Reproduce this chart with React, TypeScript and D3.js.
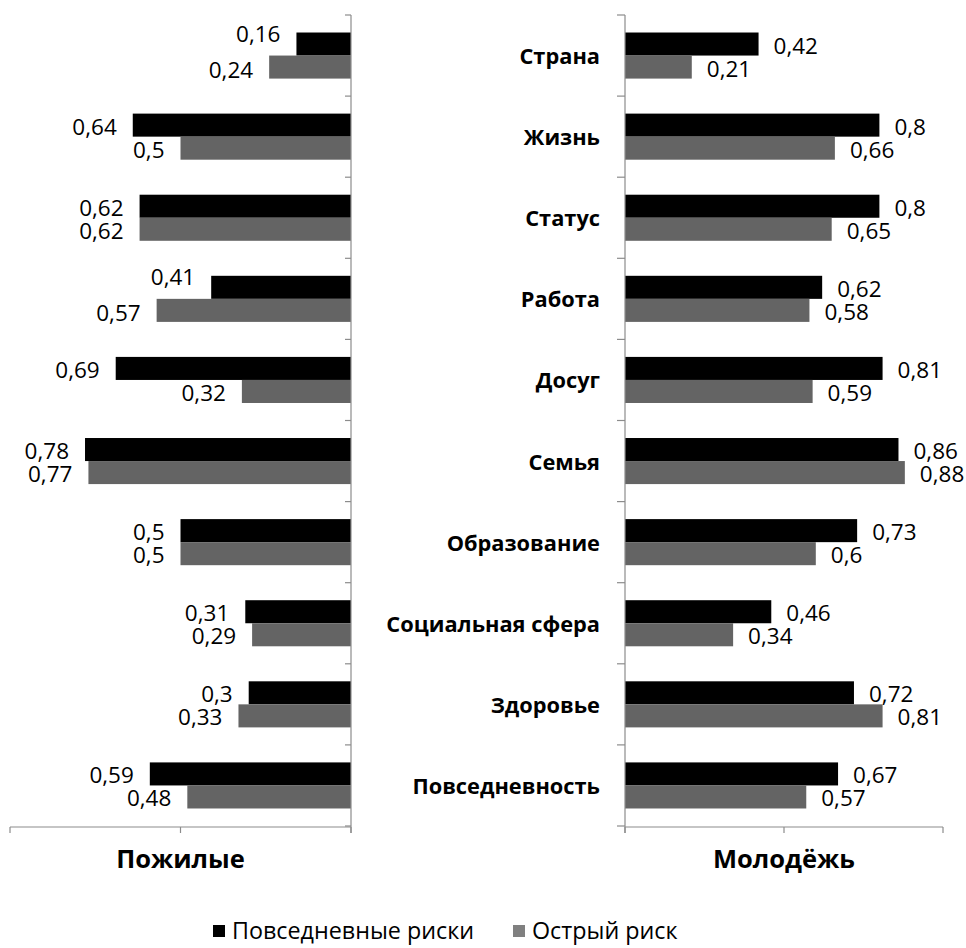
import React from "react";
import * as d3 from "d3";

const categories = [
  "Страна",
  "Жизнь",
  "Статус",
  "Работа",
  "Досуг",
  "Семья",
  "Образование",
  "Социальная сфера",
  "Здоровье",
  "Повседневность",
];
const seriesNames = ["Повседневные риски", "Острый риск"];
const elderlyDaily = [0.16, 0.64, 0.62, 0.41, 0.69, 0.78, 0.5, 0.31, 0.3, 0.59];
const elderlyAcute = [0.24, 0.5, 0.62, 0.57, 0.32, 0.77, 0.5, 0.29, 0.33, 0.48];
const youthDaily = [0.42, 0.8, 0.8, 0.62, 0.81, 0.86, 0.73, 0.46, 0.72, 0.67];
const youthAcute = [0.21, 0.66, 0.65, 0.58, 0.59, 0.88, 0.6, 0.34, 0.81, 0.57];
const xTicks = [0, 0.5, 1];
const panelTitles = ["Пожилые", "Молодёжь"];

const W = 966;
const H = 948;
const TOP = 15;
const BOTTOM = 826;
const FONT = "'Open Sans', 'Noto Sans', sans-serif";
const AXIS = "#8c8c8c";
const COLORS = ["#000000", "#646464"];
const LEGEND_COLORS = ["#000000", "#808080"];

const fmt = (v: number) => String(v).replace(".", ",");

export default function App() {
  const rows = d3.scaleBand<string>().domain(categories).range([TOP, BOTTOM]);
  const inner = d3
    .scaleBand<string>()
    .domain(seriesNames)
    .range([0, rows.step()])
    .paddingOuter(0.76)
    .paddingInner(0);
  const xL = d3.scaleLinear().domain([0, 1]).range([351, 10]);
  const xR = d3.scaleLinear().domain([0, 1]).range([625, 943]);
  const bh = inner.bandwidth();
  const boundaries = d3.range(categories.length + 1).map((i) => TOP + i * rows.step());

  const leftBars: React.ReactNode[] = [];
  const rightBars: React.ReactNode[] = [];
  categories.forEach((c, i) => {
    const y0 = rows(c)!;
    const yB = y0 + inner(seriesNames[0])!;
    const yG = y0 + inner(seriesNames[1])!;
    const lb = elderlyDaily[i];
    const lg = elderlyAcute[i];
    const shift = xL(lb) - 16 > xL(lg);
    leftBars.push(
      <g key={"l" + i}>
        <rect x={xL(lb)} y={yB} width={xL(0) - xL(lb)} height={bh} fill={COLORS[0]} />
        <rect x={xL(lg)} y={yG} width={xL(0) - xL(lg)} height={bh} fill={COLORS[1]} />
        <text x={xL(lb) - 16} y={yB + bh / 2 + 1 + (shift ? -12 : 0)} textAnchor="end" dominantBaseline="central">
          {fmt(lb)}
        </text>
        <text x={xL(lg) - 16} y={yG + bh / 2 + 1 + (shift ? 1.5 : 0)} textAnchor="end" dominantBaseline="central">
          {fmt(lg)}
        </text>
      </g>
    );
    const rb = youthDaily[i];
    const rg = youthAcute[i];
    rightBars.push(
      <g key={"r" + i}>
        <rect x={xR(0)} y={yB} width={xR(rb) - xR(0)} height={bh} fill={COLORS[0]} />
        <rect x={xR(0)} y={yG} width={xR(rg) - xR(0)} height={bh} fill={COLORS[1]} />
        <text x={xR(rb) + 15} y={yB + bh / 2 + 1} textAnchor="start" dominantBaseline="central">
          {fmt(rb)}
        </text>
        <text x={xR(rg) + 15} y={yG + bh / 2 + 1} textAnchor="start" dominantBaseline="central">
          {fmt(rg)}
        </text>
        <text
          x={600}
          y={y0 + rows.step() / 2}
          textAnchor="end"
          dominantBaseline="central"
          fontWeight="bold"
          fontSize={21.8}
        >
          {c}
        </text>
      </g>
    );
  });

  const axisY = BOTTOM + 1;

  return (
    <svg
      width={W}
      height={H}
      style={{ position: "absolute", left: 0, top: 0, background: "#fff" }}
      fontFamily={FONT}
      fontSize={22.5}
      fill="#000"
    >
      <rect x={0} y={0} width={W} height={H} fill="#fff" />
      {leftBars}
      {rightBars}
      <g stroke={AXIS} strokeWidth={1.2} fill="none">
        <line x1={351} x2={351} y1={TOP} y2={axisY + 6} />
        {boundaries.map((b, i) => (
          <line key={"lt" + i} x1={345} x2={351} y1={b} y2={b} />
        ))}
        <line x1={xL(1)} x2={xL(0)} y1={axisY} y2={axisY} />
        {xTicks.map((t) => (
          <line key={"lx" + t} x1={xL(t)} x2={xL(t)} y1={axisY} y2={axisY + 6} />
        ))}
        <line x1={625} x2={625} y1={TOP} y2={axisY + 6} />
        {boundaries.map((b, i) => (
          <line key={"rt" + i} x1={617} x2={625} y1={b} y2={b} />
        ))}
        <line x1={xR(0)} x2={xR(1)} y1={axisY} y2={axisY} />
        {xTicks.map((t) => (
          <line key={"rx" + t} x1={xR(t)} x2={xR(t)} y1={axisY} y2={axisY + 6} />
        ))}
      </g>
      <text x={(xL(0) + xL(1)) / 2} y={858} textAnchor="middle" dominantBaseline="central" fontWeight="bold" fontSize={25.5}>
        {panelTitles[0]}
      </text>
      <text x={(xR(0) + xR(1)) / 2} y={858} textAnchor="middle" dominantBaseline="central" fontWeight="bold" fontSize={25.5}>
        {panelTitles[1]}
      </text>
      {seriesNames.map((s, i) => {
        const lx = [213, 513][i];
        return (
          <g key={"lg" + i}>
            <rect x={lx} y={925} width={12} height={12} fill={LEGEND_COLORS[i]} />
            <text x={lx + 19} y={930} dominantBaseline="central" fontSize={23.3}>
              {s}
            </text>
          </g>
        );
      })}
    </svg>
  );
}
